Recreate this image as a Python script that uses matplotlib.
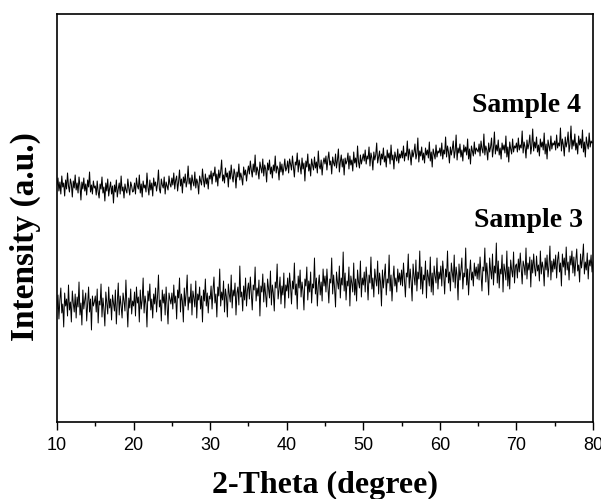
import matplotlib
matplotlib.use("Agg")
import matplotlib.pyplot as plt
import numpy as np
from matplotlib.ticker import MultipleLocator

# intensity values (a.u.), 0.125 deg step, 40 points per 5 deg
sample4 = [
    237, 244, 231, 240, 228, 246, 235, 239, 226, 242, 233, 249, 236, 230, 243, 238, 225, 241, 234, 247,
    232, 239, 229, 245, 236, 222, 240, 233, 244, 231, 238, 227, 242, 235, 250, 230, 237, 228, 241, 234,
    236, 227, 241, 230, 224, 238, 233, 245, 229, 235, 221, 239, 231, 243, 226, 234, 240, 228, 236, 219,
    237, 230, 242, 225, 233, 239, 228, 246, 231, 235, 224, 238, 232, 229, 243, 234, 227, 240, 236, 230,
    231, 239, 228, 244, 236, 233, 247, 229, 238, 225, 241, 234, 237, 230, 249, 235, 227, 242, 232, 239,
    226, 244, 236, 240, 231, 238, 252, 233, 229, 243, 237, 234, 245, 228, 240, 236, 232, 246, 238, 235,
    244, 237, 249, 233, 242, 246, 231, 240, 252, 236, 243, 229, 245, 239, 248, 235, 241, 256, 238, 244,
    232, 247, 240, 236, 250, 234, 243, 239, 228, 246, 241, 237, 253, 242, 235, 248, 238, 244, 233, 247,
    243, 251, 238, 249, 246, 255, 240, 248, 236, 252, 244, 250, 262, 241, 247, 239, 254, 245, 249, 235,
    251, 243, 257, 246, 240, 253, 248, 234, 250, 245, 258, 242, 249, 244, 237, 255, 247, 252, 241, 250,
    256, 248, 261, 252, 245, 258, 250, 267, 247, 255, 251, 243, 260, 254, 249, 263, 246, 257, 253, 240,
    259, 252, 262, 248, 255, 244, 257, 251, 266, 249, 256, 253, 242, 260, 250, 258, 247, 254, 263, 251,
    254, 261, 249, 263, 258, 252, 266, 255, 245, 260, 257, 269, 250, 262, 256, 248, 264, 253, 259, 241,
    261, 255, 268, 251, 258, 246, 263, 257, 252, 265, 254, 260, 249, 271, 256, 253, 262, 247, 259, 264,
    258, 266, 252, 263, 270, 257, 261, 248, 265, 259, 256, 268, 254, 262, 273, 250, 260, 267, 255, 263,
    247, 264, 258, 261, 269, 253, 266, 257, 262, 251, 270, 259, 264, 255, 276, 260, 254, 267, 258, 263,
    268, 261, 272, 258, 266, 263, 275, 256, 269, 264, 252, 270, 262, 267, 279, 259, 265, 271, 257, 268,
    263, 274, 260, 266, 255, 272, 264, 269, 258, 277, 262, 267, 253, 270, 265, 261, 273, 259, 268, 264,
    271, 264, 276, 261, 269, 266, 281, 262, 273, 267, 257, 272, 265, 270, 278, 263, 268, 284, 260, 271,
    266, 275, 262, 269, 259, 274, 267, 272, 264, 280, 261, 270, 255, 273, 268, 263, 277, 265, 271, 269,
    274, 266, 279, 263, 272, 268, 285, 265, 276, 270, 259, 275, 267, 273, 281, 264, 271, 287, 262, 274,
    269, 278, 265, 272, 261, 277, 270, 275, 267, 283, 263, 273, 258, 276, 271, 266, 280, 268, 274, 272,
    270, 278, 266, 281, 273, 269, 288, 267, 276, 272, 262, 279, 270, 275, 284, 265, 274, 290, 268, 277,
    271, 282, 267, 274, 263, 279, 272, 277, 269, 286, 265, 275, 260, 280, 273, 268, 283, 270, 276, 274,
    279, 270, 284, 272, 277, 274, 291, 269, 280, 275, 264, 282, 273, 278, 287, 268, 276, 293, 271, 280,
    274, 285, 270, 277, 266, 283, 275, 280, 272, 289, 268, 278, 263, 282, 276, 271, 286, 273, 279, 277,
    281, 272, 287, 274, 279, 276, 294, 271, 283, 277, 266, 285, 275, 280, 290, 270, 278, 296, 273, 282,
    276, 288, 272, 279, 268, 286, 277, 283, 274, 292, 270, 280, 265, 285, 278, 273, 289, 275, 281, 279,
    280,
]

sample3 = [
    113, 127, 103, 122, 134, 109, 118, 95, 129, 116, 123, 106, 137, 112, 120, 100, 131, 119, 110, 128,
    104, 125, 115, 140, 107, 119, 97, 132, 113, 122, 129, 101, 118, 135, 110, 123, 92, 126, 116, 120,
    126, 110, 133, 99, 121, 117, 138, 105, 124, 113, 96, 130, 119, 108, 135, 114, 123, 102, 127, 119,
    111, 132, 98, 120, 139, 107, 126, 116, 104, 129, 121, 111, 142, 117, 95, 124, 114, 133, 108, 121,
    116, 130, 106, 135, 119, 125, 100, 132, 113, 122, 144, 109, 126, 118, 95, 131, 121, 138, 112, 123,
    104, 128, 118, 134, 110, 125, 147, 115, 122, 101, 132, 119, 128, 107, 135, 116, 98, 129, 123, 118,
    129, 113, 137, 119, 126, 103, 132, 124, 144, 110, 128, 121, 100, 134, 116, 129, 147, 112, 125, 119,
    138, 107, 131, 124, 115, 141, 104, 128, 122, 135, 113, 126, 100, 132, 121, 143, 116, 129, 109, 126,
    123, 136, 113, 132, 145, 119, 128, 105, 135, 126, 153, 116, 130, 122, 141, 110, 133, 125, 105, 138,
    128, 120, 147, 114, 132, 126, 139, 107, 129, 135, 117, 156, 125, 130, 111, 136, 122, 144, 116, 132,
    139, 123, 145, 129, 112, 137, 132, 155, 121, 134, 126, 142, 106, 136, 130, 148, 120, 139, 127, 115,
    143, 133, 124, 151, 117, 137, 129, 111, 140, 134, 158, 123, 132, 145, 118, 136, 127, 149, 114, 137,
    131, 144, 124, 149, 136, 118, 141, 133, 159, 127, 138, 113, 146, 134, 152, 125, 140, 131, 112, 143,
    136, 155, 122, 141, 130, 150, 119, 138, 134, 164, 128, 144, 116, 137, 147, 127, 140, 121, 153, 136,
    146, 130, 153, 136, 119, 143, 139, 164, 128, 147, 134, 115, 150, 140, 133, 156, 124, 144, 137, 170,
    131, 149, 122, 141, 136, 155, 116, 146, 139, 130, 159, 127, 143, 121, 152, 140, 134, 161, 125, 144,
    137, 150, 130, 155, 142, 122, 147, 139, 165, 133, 144, 125, 153, 143, 136, 161, 128, 149, 140, 116,
    152, 134, 146, 158, 127, 143, 139, 167, 131, 147, 121, 142, 156, 136, 144, 130, 153, 140, 149, 137,
    152, 136, 159, 142, 125, 149, 145, 168, 134, 153, 140, 121, 158, 146, 137, 162, 131, 150, 143, 171,
    133, 155, 128, 147, 142, 161, 124, 152, 145, 136, 165, 130, 149, 127, 156, 146, 139, 164, 133, 150,
    143, 156, 136, 161, 148, 128, 153, 145, 171, 139, 150, 131, 159, 149, 140, 167, 134, 155, 146, 122,
    158, 142, 152, 164, 133, 149, 145, 174, 137, 153, 127, 148, 162, 142, 150, 136, 159, 146, 155, 143,
    158, 142, 165, 148, 131, 155, 151, 174, 140, 159, 146, 127, 164, 152, 143, 168, 137, 156, 149, 179,
    139, 161, 134, 153, 148, 167, 130, 158, 151, 142, 171, 136, 155, 133, 162, 152, 145, 170, 139, 156,
    158, 144, 163, 150, 169, 153, 138, 161, 156, 147, 174, 143, 159, 152, 165, 135, 162, 149, 168, 154,
    146, 166, 151, 157, 141, 171, 148, 160, 154, 136, 164, 152, 167, 145, 156, 176, 142, 161, 150, 163,
    153, 167, 144, 162, 170, 150, 159, 136, 168, 155, 164, 147, 175, 152, 160, 142, 166, 157, 171, 149,
    165, 146, 161, 173, 151, 157, 140, 168, 154, 163, 178, 148, 160, 152, 169, 143, 162, 156, 167, 150,
    160,
]

labels = ["Sample 4", "Sample 3"]

# 2-theta from 10 to 80 deg, one point per value
theta4 = np.linspace(10, 80, len(sample4))
theta3 = np.linspace(10, 80, len(sample3))

fig = plt.figure(figsize=(6.01, 4.99), dpi=100)
ax = fig.add_axes([57 / 601, 77 / 499, 536 / 601, 408 / 499])

ax.plot(theta4, sample4, color="black", lw=0.75)
ax.plot(theta3, sample3, color="black", lw=0.7)

ax.set_xlim(10, 80)
ax.set_ylim(0, 408)
ax.set_yticks([])
ax.xaxis.set_major_locator(MultipleLocator(10))
ax.xaxis.set_minor_locator(MultipleLocator(5))
ax.tick_params(axis="x", which="major", direction="out", length=6, width=1.0, pad=5,
               labelsize=13)
ax.tick_params(axis="x", which="minor", direction="out", length=3, width=1.0)
for lab in ax.get_xticklabels():
    lab.set_fontfamily(["Liberation Sans Narrow", "Liberation Sans"])
for sp in ax.spines.values():
    sp.set_linewidth(1.2)

ax.text(0.978, 0.760, labels[0], transform=ax.transAxes, ha="right", va="baseline",
        fontsize=20, fontweight="bold", family="Liberation Serif")
ax.text(0.982, 0.478, labels[1], transform=ax.transAxes, ha="right", va="baseline",
        fontsize=20, fontweight="bold", family="Liberation Serif")

fig.text(325 / 601, 1 - 485 / 499, "2-Theta (degree)", ha="center", va="center",
         fontsize=23, fontweight="bold", family="Liberation Serif")
fig.text(25 / 601, 1 - 237 / 499, "Intensity (a.u.)", ha="center", va="center", rotation=90,
         fontsize=24, fontweight="bold", family="Liberation Serif")

fig.savefig("out.png", dpi=100)
